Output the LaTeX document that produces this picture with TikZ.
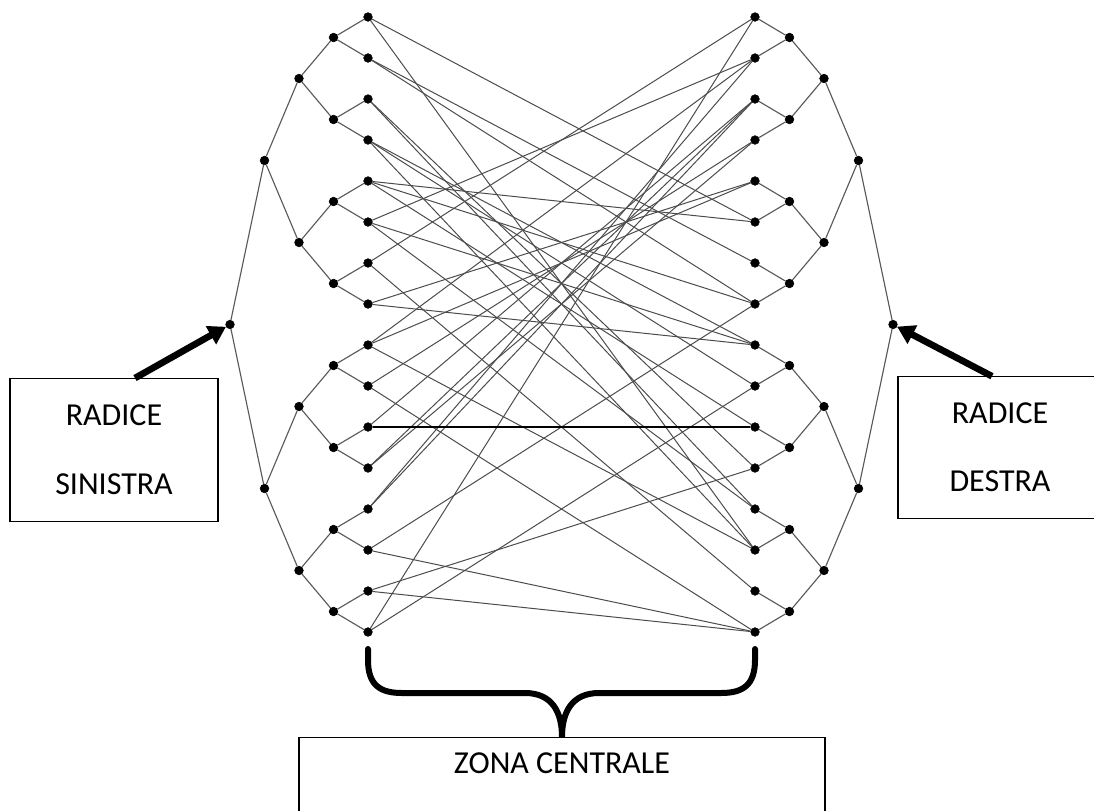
\documentclass[tikz,border=0pt]{standalone}
\usepackage{fontspec}
\setmainfont{Carlito}
\usetikzlibrary{arrows.meta}
\tikzstyle{vertex}=[circle,fill=black,draw=black,minimum size=6.5pt,inner sep=0pt]
\tikzstyle{edge} = [draw,black!65,line width=0.85pt]
\tikzstyle{crossedge} = [draw,black!70,line width=0.75pt]
\tikzstyle{pointer} = [draw,line width=5pt,-{Triangle[length=13pt,width=15pt]}]
\tikzstyle{curlybrace} = [draw,line width=4.5pt,line cap=round]
\tikzstyle{textbox} = [draw,line width=0.9pt,align=center,font=\fontsize{24}{29}\selectfont]

\begin{document}
\begin{tikzpicture}[x=0.75pt,y=-0.75pt]
\useasboundingbox (0,0) rectangle (1094,810);

   \def\h{41};     % leaf spacing
   \def\xs{368};   % left leaves
   \def\xd{755};   % right leaves
   \def\dx{34.5};  % step between layers

%layer 4 (leaves)
    \foreach \i in {0,...,15}{
        \node[vertex] (s4-\i) at (\xs, 17+\h*\i) {};
        \node[vertex] (d4-\i) at (\xd, 17+\h*\i) {};
    }

%layers 3..0
    \foreach \l in {3,2,1,0}{
        \pgfmathtruncatemacro{\n}{2^\l-1}
        \pgfmathtruncatemacro{\up}{\l+1}
        \pgfmathsetmacro{\gap}{\h*2^(4-\l)}
        \pgfmathsetmacro{\off}{17+(\gap-\h)/2}
        \foreach \i in {0,...,\n}{
            \pgfmathtruncatemacro{\a}{2*\i}
            \pgfmathtruncatemacro{\b}{2*\i+1}
            \node[vertex] (s\l-\i) at (\xs-\dx*4+\dx*\l, \off+\gap*\i) {};
            \node[vertex] (d\l-\i) at (\xd+\dx*4-\dx*\l, \off+\gap*\i) {};
            \path[edge] (s\l-\i) -- (s\up-\a) (s\l-\i) -- (s\up-\b);
            \path[edge] (d\l-\i) -- (d\up-\a) (d\l-\i) -- (d\up-\b);
        }
    }

% central zone
    \foreach \source/\dest in {0/5,0/13,1/6,1/7,2/11,2/12,3/8,3/13,3/9,4/5,4/7,4/10,
        5/8,5/12,5/1,6/0,6/14,7/4,7/8,8/1,8/4,8/13,9/3,9/15,10/2,11/2,11/3,
        12/1,12/2,13/7,13/15,14/11,14/15,15/0,15/9}
        \path[crossedge] (s4-\source) -- (d4-\dest);
    \path[draw,line width=0.9pt] (s4-10) -- (d4-10);

% Label
  \node[textbox,minimum width=156pt,minimum height=107pt] (radsx) at (114,450) {RADICE\\[23pt]SINISTRA};
  \node[textbox,minimum width=153pt,minimum height=106pt] (raddx) at (1000,447.5) {RADICE\\[22pt]DESTRA};
  \node[textbox,anchor=north,minimum width=394.5pt,text depth=40pt,inner ysep=11.5pt] (zona) at (562,737) {ZONA CENTRALE};

  \draw[pointer] ([xshift=15.75pt]radsx.north) -- (s0-0);
  \draw[pointer] ([xshift=-6pt]raddx.north) -- (d0-0);

% brace
  \path[curlybrace] (368,649) -- (368,660) .. controls (368,685) and (380,693) .. (402,693)
      -- (525,693) .. controls (552,693) and (562,712) .. (562,737)
      .. controls (562,712) and (572,693) .. (599,693) -- (721,693)
      .. controls (743,693) and (755,685) .. (755,660) -- (755,649);

\end{tikzpicture}
\end{document}
